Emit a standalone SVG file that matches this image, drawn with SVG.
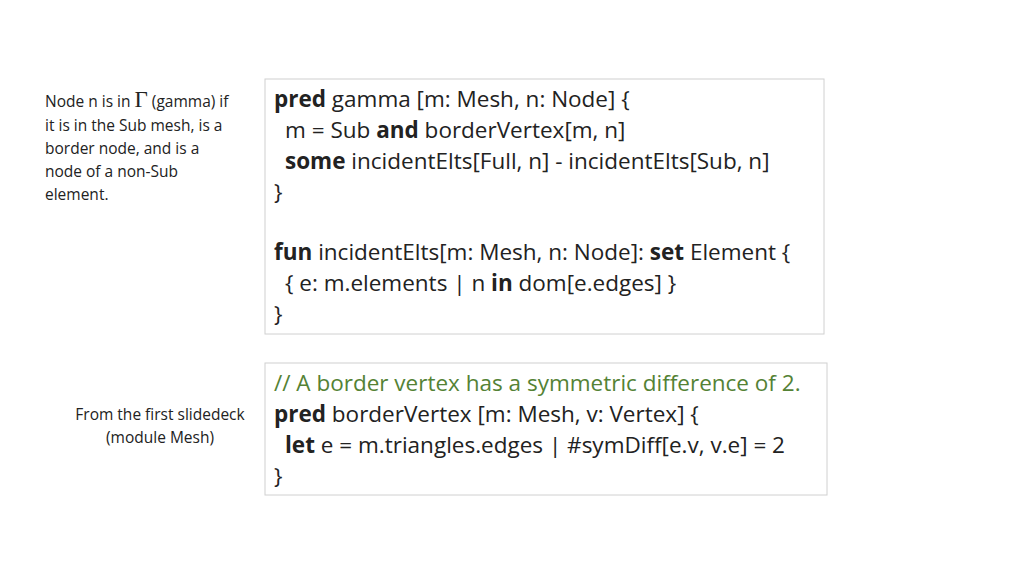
<svg xmlns="http://www.w3.org/2000/svg" width="1024" height="576" viewBox="0 0 1024 576">
<style>
.box{fill:#fff;stroke:#d0d0d0;stroke-width:1}
.code{font-family:"Open Sans","Liberation Sans",sans-serif;font-size:22.5px;fill:#222}
.note{font-family:"Open Sans","Liberation Sans",sans-serif;font-size:15.5px;fill:#222}
.b{font-weight:bold}
.c{fill:#548235}
</style>
<rect width="1024" height="576" fill="#fff"/>
<g id="note1" class="note">
<text x="45" y="107">Node n is in <tspan font-family="Liberation Serif,serif" font-size="23">Γ</tspan> (gamma) if</text>
<text x="45" y="131">it is in the Sub mesh, is a</text>
<text x="45" y="154">border node, and is a</text>
<text x="45" y="177">node of a non-Sub</text>
<text x="45" y="200">element.</text>
</g>
<g id="note2" class="note" text-anchor="middle">
<text x="160" y="420">From the first slidedeck</text>
<text x="160" y="443">(module Mesh)</text>
</g>
<g id="code1">
<rect class="box" x="265" y="79" width="559" height="255"/>
<g class="code">
<text x="274" y="107"><tspan class="b">pred</tspan> gamma [m: Mesh, n: Node] {</text>
<text x="285" y="138">m = Sub <tspan class="b">and</tspan> borderVertex[m, n]</text>
<text x="285" y="169"><tspan class="b">some</tspan> incidentElts[Full, n] - incidentElts[Sub, n]</text>
<text x="274" y="200">}</text>
<text x="274" y="260"><tspan class="b">fun</tspan> incidentElts[m: Mesh, n: Node]: <tspan class="b">set</tspan> Element {</text>
<text x="285" y="291">{ e: m.elements | n <tspan class="b">in</tspan> dom[e.edges] }</text>
<text x="274" y="322">}</text>
</g>
</g>
<g id="code2">
<rect class="box" x="265" y="363" width="562" height="132"/>
<g class="code">
<text x="274" y="391" class="c">// A border vertex has a symmetric difference of 2.</text>
<text x="274" y="422"><tspan class="b">pred</tspan> borderVertex [m: Mesh, v: Vertex] {</text>
<text x="285" y="453"><tspan class="b">let</tspan> e = m.triangles.edges | #symDiff[e.v, v.e] = 2</text>
<text x="274" y="484">}</text>
</g>
</g>
<g id="connectors"/>
</svg>
